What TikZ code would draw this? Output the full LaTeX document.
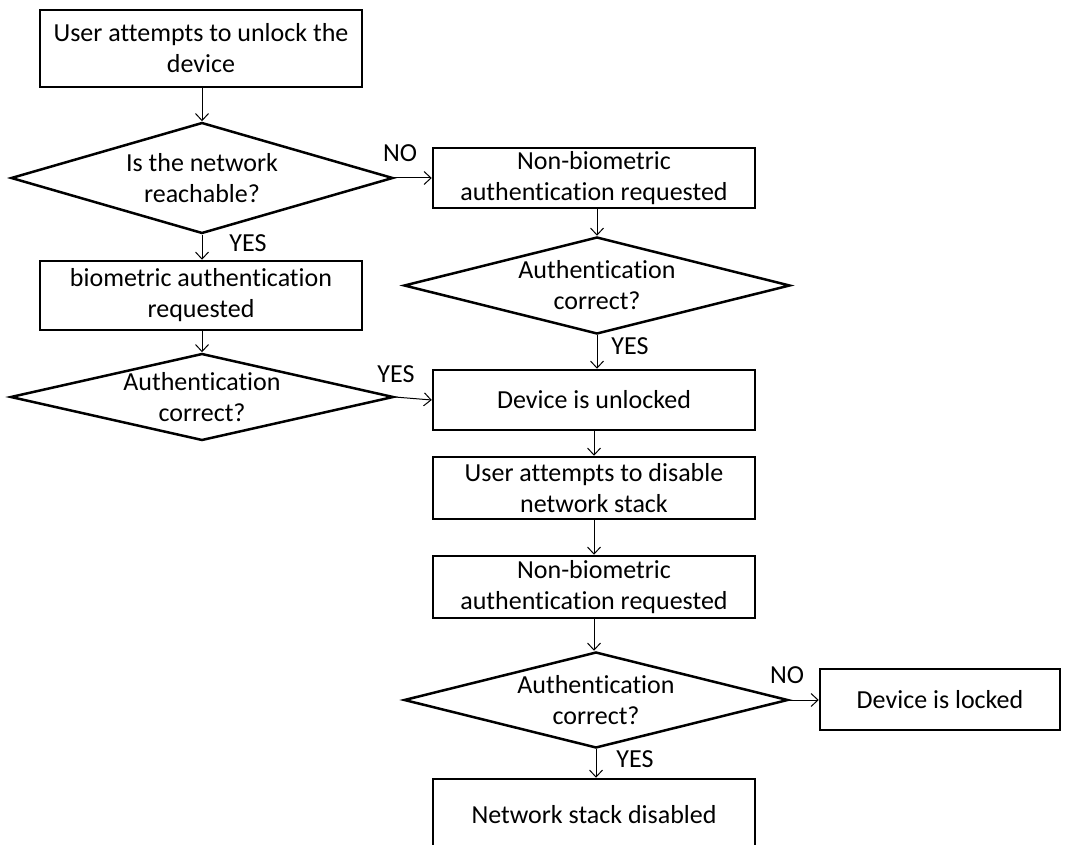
\documentclass[tikz,border=0pt]{standalone}
\usepackage{fontspec}
\setmainfont{Carlito}[Ligatures=NoCommon]
\usetikzlibrary{shapes.geometric,arrows.meta}
\begin{document}
\begin{tikzpicture}[x=1pt,y=-1pt,
  every node/.style={font=\fontsize{26}{31}\selectfont},
  box/.style={draw,line width=2.5pt,rectangle,inner sep=0pt,align=center,minimum width=322pt},
  dia/.style={draw,line width=2.5pt,diamond,inner sep=0pt},
  txt/.style={align=center,inner sep=0pt},
  arr/.style={line width=1pt,-{Straight Barb[length=7pt,width=13pt]}},
  lab/.style={inner sep=0pt}]
\useasboundingbox (0,0) rectangle (1065,845);
% left column
\node[box,minimum height=77pt] (b1) at (201,48.5) {User attempts to unlock the\\device};
\node[dia,minimum width=382pt,minimum height=111pt] (d1) at (202,178) {};
\node[txt] at (d1.center) {Is the network\\reachable?};
\node[box,minimum height=69pt] (b2) at (201,295.5) {biometric authentication\\requested};
\node[dia,minimum width=383pt,minimum height=87pt] (d3) at (202,397) {};
\node[txt] at (d3.center) {Authentication\\correct?};
% right column
\node[box,minimum height=60pt] (n1) at (594,178) {Non-biometric\\authentication requested};
\node[dia,minimum width=386pt,minimum height=97pt] (d2) at (597,285.5) {};
\node[txt] at (d2.center) {Authentication\\correct?};
\node[box,minimum height=60pt] (unl) at (594,400) {Device is unlocked};
\node[box,minimum height=62pt] (dis) at (594,488) {User attempts to disable\\network stack};
\node[box,minimum height=62pt] (n2) at (594,587) {Non-biometric\\authentication requested};
\node[dia,minimum width=384pt,minimum height=96pt] (d4) at (596,700) {};
\node[txt] at (d4.center) {Authentication\\correct?};
\node[box,minimum width=240pt,minimum height=61pt] (lock) at (940,699.5) {Device is locked};
\node[box,minimum height=72pt] (fin) at (594,815) {Network stack disabled};
% connectors
\draw[arr] (b1.south -| d1.north) -- (d1.north);
\draw[arr] (d1.south) -- (d1.south |- b2.north);
\draw[arr] (d1.east) -- (d1.east -| n1.west);
\draw[arr] (n1.south -| d2.north) -- (d2.north);
\draw[arr] (d2.south) -- (d2.south |- unl.north);
\draw[arr] (b2.south -| d3.north) -- (d3.north);
\draw[arr] (d3.east) -- (unl.west);
\draw[arr] (unl.south) -- (dis.north);
\draw[arr] (dis.south) -- (n2.north);
\draw[arr] (n2.south) -- (n2.south |- d4.north);
\draw[arr] (d4.east) -- (d4.east -| lock.west);
\draw[arr] (d4.south) -- (d4.south |- fin.north);
% labels
\node[lab] (l1) at (400,153) {NO};
\node[lab] (l2) at (248,243) {YES};
\node[lab] (l3) at (396,374) {YES};
\node[lab] (l4) at (630,346) {YES};
\node[lab] (l5) at (787,675) {NO};
\node[lab] (l6) at (635,759) {YES};
\end{tikzpicture}
\end{document}
